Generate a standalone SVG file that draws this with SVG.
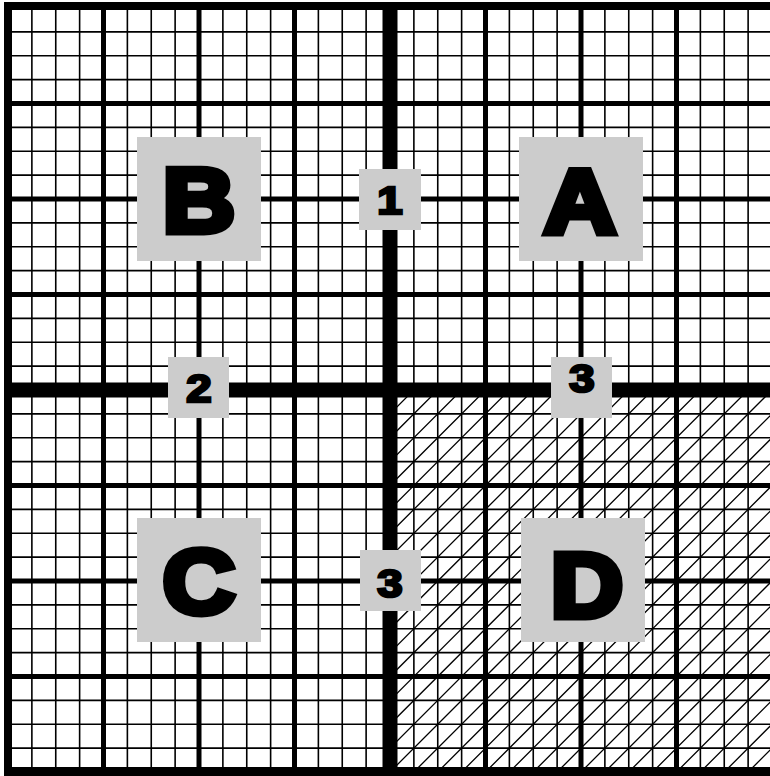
<svg xmlns="http://www.w3.org/2000/svg" width="770" height="776" viewBox="0 0 770 776">
<style>
.minor{fill:none;stroke:#000;stroke-width:1.6}
.major{fill:none;stroke:#000;stroke-width:5}
.center{fill:none;stroke:#000;stroke-width:15}
.hatch{fill:none;stroke:#000;stroke-width:1.3}
.box{fill:#ccc}
.big{font-family:"Liberation Sans",Arial,sans-serif;font-weight:bold;font-size:91px;fill:#000;stroke:#000;stroke-width:7;stroke-linejoin:miter;text-anchor:middle}
.small{font-family:"Liberation Sans",Arial,sans-serif;font-weight:bold;font-size:38px;fill:#000;stroke:#000;stroke-width:2.6;text-anchor:middle}
</style>
<defs>
<clipPath id="quadD"><rect x="390" y="390" width="380" height="386"/></clipPath>
</defs>
<rect width="770" height="776" fill="#fff"/>
<g id="connectors">
<path class="hatch" clip-path="url(#quadD)" d="M3.875 800l500-500M27.75 800l500-500M51.625 800l500-500M75.5 800l500-500M99.375 800l500-500M123.25 800l500-500M147.125 800l500-500M171 800l500-500M194.875 800l500-500M218.75 800l500-500M242.625 800l500-500M266.5 800l500-500M290.375 800l500-500M314.25 800l500-500M338.125 800l500-500M362 800l500-500M385.875 800l500-500M409.75 800l500-500M433.625 800l500-500M457.5 800l500-500M481.375 800l500-500M505.25 800l500-500M529.125 800l500-500M553 800l500-500M576.875 800l500-500M600.75 800l500-500M624.625 800l500-500M648.5 800l500-500M672.375 800l500-500M696.25 800l500-500M720.125 800l500-500M744 800l500-500"/>
<path class="minor" d="M31.875 6V776M55.75 6V776M79.625 6V776M127.375 6V776M151.25 6V776M175.125 6V776M222.875 6V776M246.75 6V776M270.625 6V776M318.375 6V776M342.25 6V776M366.125 6V776M413.875 6V776M437.75 6V776M461.625 6V776M509.375 6V776M533.25 6V776M557.125 6V776M604.875 6V776M628.75 6V776M652.625 6V776M700.375 6V776M724.25 6V776M748.125 6V776"/>
<path class="minor" d="M8 31.875H770M8 55.75H770M8 79.625H770M8 127.375H770M8 151.25H770M8 175.125H770M8 222.875H770M8 246.75H770M8 270.625H770M8 318.375H770M8 342.25H770M8 366.125H770M8 413.875H770M8 437.75H770M8 461.625H770M8 509.375H770M8 533.25H770M8 557.125H770M8 604.875H770M8 628.75H770M8 652.625H770M8 700.375H770M8 724.25H770M8 748.125H770"/>
<path class="major" d="M103.5 6V776M199 6V776M294.5 6V776M485.5 6V776M581 6V776M676.5 6V776M8 103.5H770M8 199H770M8 294.5H770M8 485.5H770M8 581H770M8 676.5H770"/>
<path class="center" d="M390 6V776M8 390H770"/>
<rect x="4" y="2" width="766" height="8" fill="#000"/>
<rect x="4" y="2" width="8" height="774" fill="#000"/>
<rect x="4" y="767" width="766" height="9" fill="#000"/>
</g>
<g id="nodeB"><rect class="box" x="137" y="137" width="124" height="124"/><text class="big" transform="translate(199 232) scale(1.1 1)">B</text></g>
<g id="nodeA"><rect class="box" x="519" y="137" width="124" height="124"/><text class="big" transform="translate(580 233) scale(1.1 1)">A</text></g>
<g id="nodeC"><rect class="box" x="137" y="518" width="124" height="124"/><text class="big" transform="translate(199 613) scale(1.1 1)">C</text></g>
<g id="nodeD"><rect class="box" x="521" y="518" width="124" height="124"/><text class="big" transform="translate(587 617) scale(1.1 1)">D</text></g>
<g id="label1"><rect class="box" x="359" y="169" width="62" height="61"/><text class="small" transform="translate(390 214) scale(1.2 1)">1</text></g>
<g id="label2"><rect class="box" x="168" y="357" width="61" height="61"/><text class="small" transform="translate(199 402) scale(1.2 1)">2</text></g>
<g id="label3a"><rect class="box" x="551" y="357" width="61" height="61"/><text class="small" transform="translate(582 392) scale(1.2 1)">3</text></g>
<g id="label3b"><rect class="box" x="360" y="550" width="61" height="61"/><text class="small" transform="translate(390 597) scale(1.2 1)">3</text></g>
</svg>
